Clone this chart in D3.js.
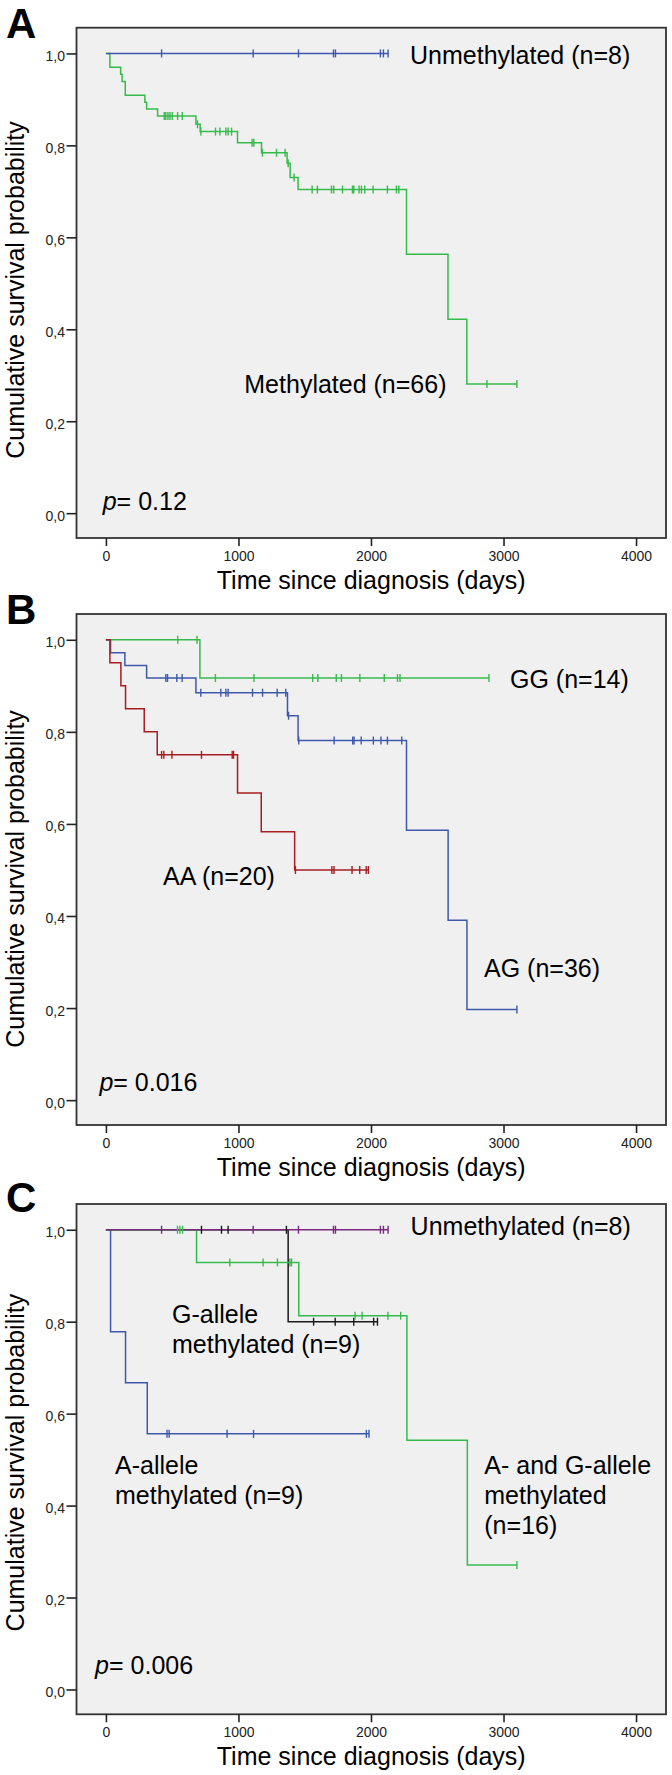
<!DOCTYPE html>
<html><head><meta charset="utf-8">
<script src="https://cdn.jsdelivr.net/npm/d3@7"></script>
<style>
body{margin:0;background:#fff}
svg{display:block}
text{font-family:"Liberation Sans",Arial,Helvetica,sans-serif}
</style>
</head><body>
<svg id="chart" width="672" height="1775"></svg>
<script>
// ---------- shared axis data ----------
const xTicks = [0, 1000, 2000, 3000, 4000];
const yTicks = [0, 0.2, 0.4, 0.6, 0.8, 1.0];
const yTickLabels = ["0,0", "0,2", "0,4", "0,6", "0,8", "1,0"];
const panelLetters = ["A", "B", "C"];
const pValues = ["0.12", "0.016", "0.006"];
const xTitle = "Time since diagnosis (days)";
const yTitle = "Cumulative survival probability";

// ---------- Panel A ----------
const aUnmethEvents = [];
const aUnmethSurv = [];
const aUnmethCensored = [420, 1111, 1453, 1717, 1732, 2071, 2094, 2129];
const aMethEvents = [30, 111, 122, 146, 294, 307, 390, 679, 711, 993, 1174, 1367, 1390, 1450, 2268, 2581, 2723];
const aMethSurv = [0.970, 0.955, 0.939, 0.909, 0.894, 0.879, 0.864, 0.846, 0.830, 0.806, 0.784, 0.761, 0.730, 0.704, 0.563, 0.422, 0.281];
const aMethCensored = [440, 452, 468, 483, 500, 541, 576, 691, 716, 827, 860, 905, 922, 948, 1103, 1116, 1181, 1287, 1352, 1375, 1420,
  1556, 1596, 1702, 1719, 1785, 1860, 1870, 1910, 1928, 1953, 2016, 2124, 2192, 2210, 2875, 3101];

// ---------- Panel B ----------
const bGGEvents = [709];
const bGGSurv = [0.917];
const bGGCensored = [542, 687, 826, 1117, 1560, 1599, 1738, 1777, 1916, 2100, 2200, 2219, 2890];
const bAGEvents = [35, 143, 307, 679, 1370, 1450, 2268, 2582, 2724];
const bAGSurv = [0.972, 0.944, 0.917, 0.885, 0.835, 0.781, 0.586, 0.391, 0.197];
const bAGCensored = [452, 465, 535, 575, 716, 867, 905, 922, 1106, 1182, 1292, 1357, 1378, 1455, 1722, 1862, 1872, 1926, 2018, 2075, 2124, 2232, 3101];
const bAAEvents = [30, 113, 148, 289, 387, 993, 1172, 1424];
const bAASurv = [0.95, 0.90, 0.85, 0.80, 0.75, 0.667, 0.583, 0.50];
const bAACensored = [420, 437, 498, 721, 953, 963, 1430, 1705, 1721, 1857, 1915, 1964, 1980];

// ---------- Panel C ----------
const cUnmethEvents = [];
const cUnmethSurv = [];
const cUnmethCensored = [420, 1111, 1453, 1717, 1732, 2071, 2094, 2129];
const cAEvents = [35, 148, 312];
const cASurv = [0.778, 0.667, 0.556];
const cACensored = [461, 477, 914, 1114, 1965, 1985];
const cGEvents = [1375];
const cGSurv = [0.80];
const cGCensored = [721, 872, 922, 1362, 1567, 1730, 1870, 2020, 2049];
const cAGEvents = [684, 1455, 2271, 2727];
const cAGSurv = [0.929, 0.813, 0.542, 0.271];
const cAGCensored = [540, 558, 578, 935, 1186, 1294, 1388, 1400, 1880, 1933, 2128, 2224, 3101];

// ---------- colours ----------
const cBlue = "#3E58AC", cGreen = "#36BA4C", cRed = "#A81C20", cPurple = "#7C287D", cBlack = "#1a1a1a";

// ---------- panel definitions (drawing order = array order) ----------
const panels = [
  {
    top: 27.7, bottom: 538, letterY: 38, pX: 102.7, pY: 510, yTitleOff: 6.7,
    series: [
      {ev: aMethEvents, sv: aMethSurv, cen: aMethCensored, color: cGreen},
      {ev: aUnmethEvents, sv: aUnmethSurv, cen: aUnmethCensored, color: cBlue}
    ],
    labels: [
      {lines: ["Unmethylated (n=8)"], x: 410, y: 64},
      {lines: ["Methylated (n=66)"], x: 244.3, y: 393.3}
    ]
  },
  {
    top: 614, bottom: 1125, letterY: 624, pX: 99.4, pY: 1090.7, yTitleOff: 9,
    series: [
      {ev: bGGEvents, sv: bGGSurv, cen: bGGCensored, color: cGreen},
      {ev: bAGEvents, sv: bAGSurv, cen: bAGCensored, color: cBlue},
      {ev: bAAEvents, sv: bAASurv, cen: bAACensored, color: cRed}
    ],
    labels: [
      {lines: ["GG (n=14)"], x: 510, y: 687.7},
      {lines: ["AA (n=20)"], x: 163, y: 885},
      {lines: ["AG (n=36)"], x: 484, y: 976.7}
    ]
  },
  {
    top: 1204, bottom: 1714.3, letterY: 1212, pX: 95.1, pY: 1674.3, yTitleOff: 3,
    series: [
      {ev: cAEvents, sv: cASurv, cen: cACensored, color: cBlue},
      {ev: cGEvents, sv: cGSurv, cen: cGCensored, color: cBlack},
      {ev: cAGEvents, sv: cAGSurv, cen: cAGCensored, color: cGreen},
      {ev: cUnmethEvents, sv: cUnmethSurv, cen: cUnmethCensored, color: cPurple}
    ],
    labels: [
      {lines: ["Unmethylated (n=8)"], x: 410.6, y: 1235},
      {lines: ["G-allele", "methylated (n=9)"], x: 172, y: 1323},
      {lines: ["A-allele", "methylated (n=9)"], x: 115, y: 1474},
      {lines: ["A- and G-allele", "methylated", "(n=16)"], x: 484.3, y: 1474}
    ]
  }
];

const svg = d3.select("#chart");
const frameLeft = 76.5, frameRight = 666;
const x = d3.scaleLinear().domain([-222, 4226]).range([frameLeft, frameRight]);
const FS = 25;

function survAt(ev, sv, t) {
  let s = 1;
  for (let i = 0; i < ev.length; i++) if (ev[i] <= t) s = sv[i];
  return s;
}

panels.forEach((p, pi) => {
  const g = svg.append("g");
  const y = d3.scaleLinear().domain([-0.054, 1.056]).range([p.bottom, p.top]);

  // frame
  g.append("rect")
    .attr("x", frameLeft).attr("y", p.top)
    .attr("width", frameRight - frameLeft).attr("height", p.bottom - p.top)
    .attr("fill", "#f0f0f0").attr("stroke", "#333").attr("stroke-width", 1.8);

  // y axis
  const ya = g.append("g").attr("transform", `translate(${frameLeft},0)`)
    .call(d3.axisLeft(y).tickValues(yTicks).tickSize(10).tickPadding(1.5)
      .tickFormat((d, i) => yTickLabels[i]));
  ya.select(".domain").remove();
  ya.selectAll("line").attr("stroke", "#222").attr("stroke-width", 1.6);
  ya.selectAll("text").attr("font-size", 14).attr("dy", "0.5em").attr("fill", "#222")
    .style("font-family", '"Liberation Sans",Arial,sans-serif');

  // x axis
  const xa = g.append("g").attr("transform", `translate(0,${p.bottom})`)
    .call(d3.axisBottom(x).tickValues(xTicks).tickSize(8).tickPadding(5)
      .tickFormat(d3.format("d")));
  xa.select(".domain").remove();
  xa.selectAll("line").attr("stroke", "#222").attr("stroke-width", 1.6);
  xa.selectAll("text").attr("font-size", 14).attr("fill", "#222")
    .style("font-family", '"Liberation Sans",Arial,sans-serif');

  // curves
  p.series.forEach(s => {
    const end = Math.max(d3.max(s.cen) || 0, d3.max(s.ev) || 0);
    let d = `M${x(0)},${y(1)}`;
    s.ev.forEach((t, i) => {
      d += `H${x(t)}V${y(s.sv[i])}`;
    });
    d += `H${x(end)}`;
    g.append("path").attr("d", d).attr("fill", "none")
      .attr("stroke", s.color).attr("stroke-width", 1.5);
  });
  // censor ticks
  p.series.forEach(s => {
    g.append("g").selectAll("line").data(s.cen).join("line")
      .attr("x1", t => x(t)).attr("x2", t => x(t))
      .attr("y1", t => y(survAt(s.ev, s.sv, t)) - 4)
      .attr("y2", t => y(survAt(s.ev, s.sv, t)) + 4)
      .attr("stroke", s.color).attr("stroke-width", 1.4);
  });

  // group labels
  p.labels.forEach(l => {
    const t = g.append("text").attr("font-size", FS).attr("fill", "#000");
    l.lines.forEach((ln, i) => {
      t.append("tspan").attr("x", l.x).attr("y", l.y + i * 30).text(ln);
    });
  });

  // p-value
  const pt = g.append("text").attr("x", p.pX).attr("y", p.pY).attr("font-size", FS).attr("fill", "#000");
  pt.append("tspan").attr("font-style", "italic").text("p");
  pt.append("tspan").text("= " + pValues[pi]);

  // axis titles
  g.append("text").attr("x", (frameLeft + frameRight) / 2).attr("y", p.bottom + 51)
    .attr("text-anchor", "middle").attr("font-size", FS).attr("fill", "#000").text(xTitle);
  g.append("text")
    .attr("transform", `translate(24,${y(0.5) + p.yTitleOff}) rotate(-90)`)
    .attr("text-anchor", "middle").attr("font-size", FS).attr("fill", "#000").text(yTitle);

  // panel letter
  g.append("text").attr("x", 6).attr("y", p.letterY)
    .attr("font-size", 42).attr("font-weight", "bold").attr("fill", "#000")
    .text(panelLetters[pi]);
});
</script>
</body></html>
